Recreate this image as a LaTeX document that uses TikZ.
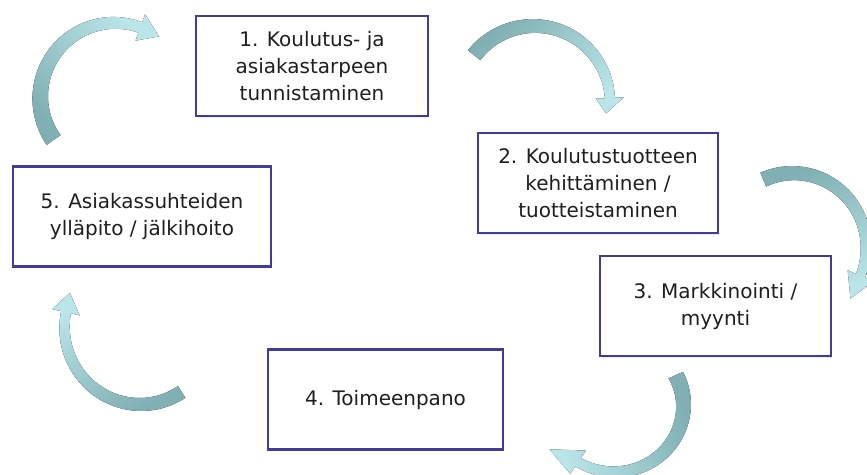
\documentclass[tikz,border=0pt]{standalone}
\usepackage{fontspec}
\setmainfont{DejaVu Sans}
\usepackage{tikz}
\usetikzlibrary{backgrounds,calc,shadows}

\definecolor{reuna}{RGB}{64,60,158}
\definecolor{tumma}{RGB}{128,176,179}
\definecolor{vaalea}{RGB}{186,229,233}

\newcommand{\kaari}[9]{%
  \pgfmathsetmacro{\kaarisis}{#6-14}%
  \pgfmathsetmacro{\kaariulk}{#6+14}%
  \begin{scope}[shift={#2}]
    \fill[#1] plot[domain=#3:#4, samples=50, variable=\t]
        ({(#5+(#6-#5)*(\t-#3)/(#4-#3)+(#7+(#8-#7)*(\t-#3)/(#4-#3))/2)*cos(\t)},
         {(#5+(#6-#5)*(\t-#3)/(#4-#3)+(#7+(#8-#7)*(\t-#3)/(#4-#3))/2)*sin(\t)})
      -- (#4:\kaariulk) -- (#9) -- (#4:\kaarisis)
      -- plot[domain=#3:#4, samples=50, variable=\t]
        ({(#5+(#6-#5)*(#4-\t)/(#4-#3)-(#7+(#8-#7)*(#4-\t)/(#4-#3))/2)*cos(#3+#4-\t)},
         {(#5+(#6-#5)*(#4-\t)/(#4-#3)-(#7+(#8-#7)*(#4-\t)/(#4-#3))/2)*sin(#3+#4-\t)})
      -- cycle;
  \end{scope}}

\begin{document}
\begin{tikzpicture}[x=1pt,y=-1pt,
  laatikko/.style={draw=reuna, line width=2.2pt, fill=white,
    minimum width=#1, minimum height=100pt, inner sep=0pt, align=center,
    text=black!88, font=\fontsize{20}{27}\selectfont,
    drop shadow={opacity=0.15, shadow xshift=1.2pt, shadow yshift=-1.8pt}}]
\fill[white] (0,0) rectangle (867,474);
\useasboundingbox (0,0) rectangle (867,474);

\node[laatikko=232pt] (vaihe1) at (312,66) {1. Koulutus- ja\\asiakastarpeen\\tunnistaminen};
\node[laatikko=240pt] (vaihe2) at (598,183) {2. Koulutustuotteen\\kehittäminen /\\tuotteistaminen};
\node[laatikko=231pt] (vaihe3) at (715.5,306) {3. Markkinointi /\\myynti};
\node[laatikko=235pt] (vaihe4) at (385.5,399.5) {4. Toimeenpano};
\node[laatikko=258pt] (vaihe5) at (142,216.5) {5. Asiakassuhteiden\\ylläpito / jälkihoito};

\kaari{top color=vaalea, bottom color=tumma, shading angle=-45}{(115,97)}{145}{290}{75}{74}{17}{11}{306:75}
\kaari{top color=vaalea, bottom color=tumma, shading angle=-135}{(534,102)}{218}{357}{76}{76}{16}{10}{369:73}
\kaari{top color=vaalea, bottom color=tumma, shading angle=-160}{(791,245)}{247}{384}{71}{76}{15}{10}{402:80}
\kaari{top color=vaalea, bottom color=tumma, shading angle=110}{(620,400)}{336}{484}{61}{75}{16}{10}{505:86}
\kaari{top color=vaalea, bottom color=tumma, shading angle=30}{(143,330)}{58}{193}{73}{79}{14}{10}{207:82}
\end{tikzpicture}
\end{document}
